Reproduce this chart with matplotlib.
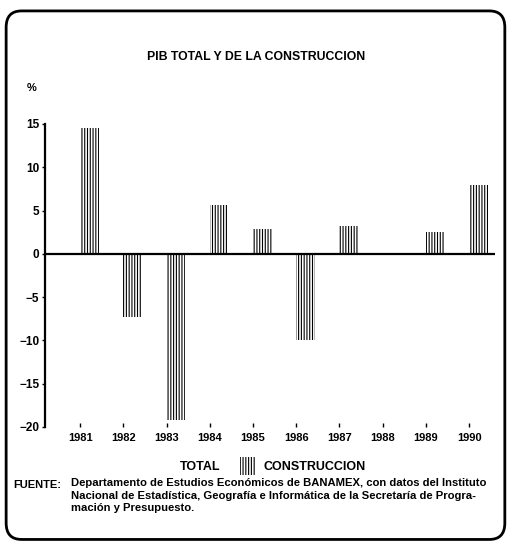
import numpy as np
import matplotlib.pyplot as plt
from matplotlib.patches import FancyBboxPatch, Patch

plt.rcParams['font.family'] = ['Liberation Sans', 'DejaVu Sans']
plt.rcParams['font.weight'] = 'bold'
plt.rcParams['hatch.linewidth'] = 0.8

years = [1981, 1982, 1983, 1984, 1985, 1986, 1987, 1988, 1989, 1990]
construccion = [14.5, -7.3, -19.2, 5.6, 2.9, -10.0, 3.2, 0.0, 2.5, 8.0]

fig = plt.figure(figsize=(5.12, 5.46), dpi=100)
ax = fig.add_axes([0.088, 0.218, 0.879, 0.555])

ax.bar(years, construccion, width=0.43, align='edge', color='white',
       edgecolor='black', hatch='||||||', linewidth=0)
ax.axhline(0, color='black', lw=1.6)

ax.set_xlim(1980.19, 1990.6)
ax.set_ylim(-20, 15)
ax.set_yticks([15, 10, 5, 0, -5, -10, -15, -20])
ax.set_xticks(years)
ax.tick_params(axis='x', direction='in', length=3, width=1, labelsize=8, pad=4)
ax.tick_params(axis='y', direction='out', length=2, width=1, labelsize=8.5, pad=2)
for s in ['top', 'right', 'bottom']:
    ax.spines[s].set_visible(False)
ax.spines['left'].set_linewidth(1.6)
ax.text(-0.02, 1.11, '%', transform=ax.transAxes, fontsize=8, ha='right')

fig.text(0.5, 0.895, 'PIB TOTAL Y DE LA CONSTRUCCION', ha='center', va='center', fontsize=8.8)

handles = [Patch(facecolor='white', edgecolor='white'),
           Patch(facecolor='white', edgecolor='black', hatch='||||||', linewidth=0)]
fig.legend(handles, ['TOTAL', 'CONSTRUCCION'], ncol=2, frameon=False,
           loc='center', bbox_to_anchor=(0.51, 0.146), fontsize=9,
           handlelength=1.2, handleheight=1.8, columnspacing=1.6, handletextpad=0.7)

fig.text(0.025, 0.112, 'FUENTE:', fontsize=8, va='center')
fig.text(0.138, 0.124, 'Departamento de Estudios Económicos de BANAMEX, con datos del Instituto\n'
         'Nacional de Estadística, Geografía e Informática de la Secretaría de Progra-\n'
         'mación y Presupuesto.', fontsize=8.1, va='top', linespacing=1.32)

fig.patches.append(FancyBboxPatch((0.012, 0.012), 0.974, 0.968, boxstyle='round,pad=0,rounding_size=0.03',
                                  transform=fig.transFigure, facecolor='none', edgecolor='black', lw=2))

fig.savefig('out.png', dpi=100)
